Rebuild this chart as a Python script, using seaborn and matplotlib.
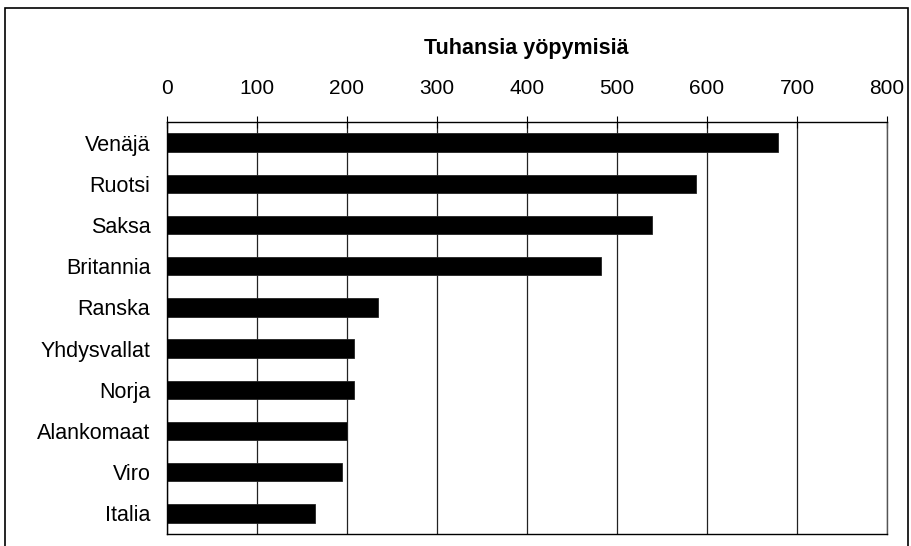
import numpy as np
import pandas as pd
import matplotlib
matplotlib.use("Agg")
import matplotlib.pyplot as plt
from matplotlib.patches import Rectangle
import seaborn as sns

# Tuhansia yöpymisiä maittain
countries = ["Venäjä", "Ruotsi", "Saksa", "Britannia", "Ranska",
             "Yhdysvallat", "Norja", "Alankomaat", "Viro", "Italia"]
nights    = [679, 588, 539, 482, 235, 208, 208, 200, 194, 165]
x_ticks   = [0, 100, 200, 300, 400, 500, 600, 700, 800]

df = pd.DataFrame({"country": countries, "nights": nights})

sns.set_theme(style="white")
plt.rcParams["font.family"] = ["Liberation Sans", "DejaVu Sans"]

fig = plt.figure(figsize=(9.12, 5.46), dpi=100, facecolor="white")
ax = fig.add_axes([167/912, 1 - 534/546, 720/912, 412/546])

sns.barplot(data=df, x="nights", y="country", orient="h", color="black",
            saturation=1, width=0.45, edgecolor="#222", linewidth=0.6, ax=ax)

ax.set_xlim(0, 800)
ax.set_xticks(x_ticks)
ax.set_xticklabels([str(t) for t in x_ticks], fontsize=15, color="black")
ax.xaxis.tick_top()
ax.xaxis.set_label_position("top")
ax.set_xlabel("")
ax.set_ylabel("")
ax.tick_params(axis="x", length=8, width=0.8, color="black", pad=13, direction="inout")
ax.tick_params(axis="y", which="major", length=0, pad=12, labelsize=15.5, labelcolor="black")
ax.set_yticks(np.arange(-0.5, len(countries), 1), minor=True)
ax.tick_params(axis="y", which="minor", length=4, width=0.8, color="black", direction="out")

ax.grid(axis="x", color="#222", linewidth=0.9)
ax.set_axisbelow(True)
for name, sp in ax.spines.items():
    sp.set_visible(True)
    sp.set_color("black")
    sp.set_linewidth(1.0)
ax.spines["right"].set_color("#555")
ax.spines["right"].set_linestyle((0, (1, 1)))

fig.text(526/912, 1 - 54/546, "Tuhansia yöpymisiä", ha="center", va="baseline",
         fontsize=15.5, fontweight="bold", color="black")

# outer chart frame
fig.patches.append(Rectangle((5/912, -0.02), 903/912, 1 - 8/546 + 0.02,
                             transform=fig.transFigure, fill=False,
                             edgecolor="black", linewidth=1.2))

fig.savefig("out.png", dpi=100, facecolor="white")
